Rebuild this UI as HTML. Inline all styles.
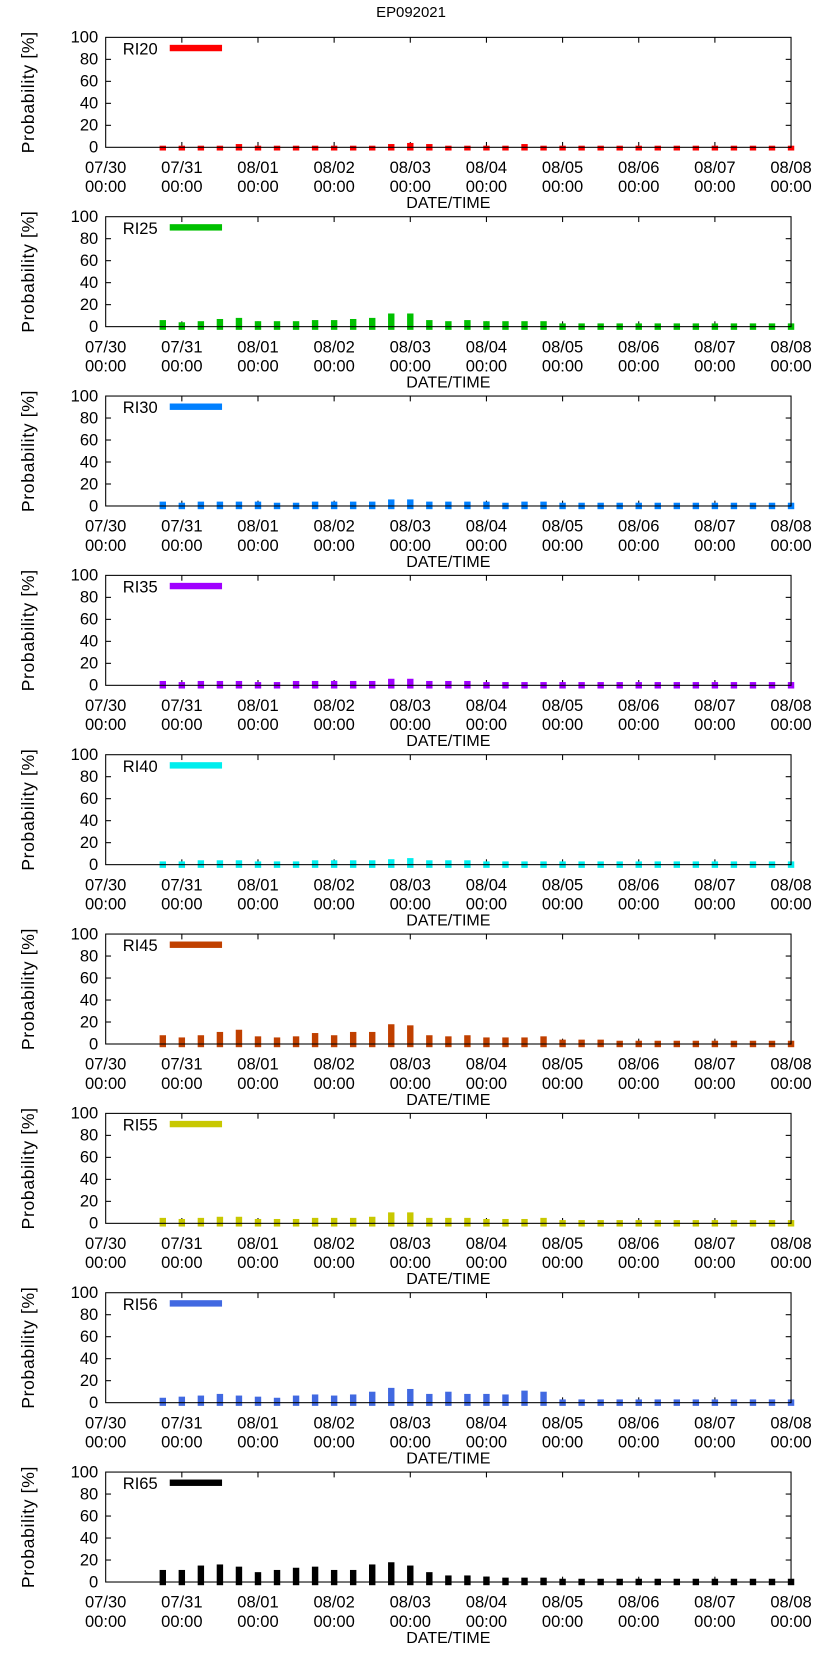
<!DOCTYPE html>
<html><head><meta charset="utf-8"><style>
html,body{margin:0;padding:0;background:#fff;}
svg{display:block;font-family:"Liberation Sans",sans-serif;}
</style></head><body>
<svg id="chart" width="822" height="1653" viewBox="0 0 770 1548.5" preserveAspectRatio="none" xmlns="http://www.w3.org/2000/svg">
<text x="385" y="16" text-anchor="middle" font-size="14">EP092021</text>
</svg>
<script>
const panelNames = ["RI20","RI25","RI30","RI35","RI40","RI45","RI55","RI56","RI65"];
const panelColors = ["#ff0000","#00c000","#0080ff","#a000ff","#00eeee","#c04000","#c8c800","#4169e1","#000000"];
const dayLabels = ["07/30","07/31","08/01","08/02","08/03","08/04","08/05","08/06","08/07","08/08"];
const yTicks = [0,20,40,60,80,100];
const firstBarHour = 18;
const ri20 = [0.5,0.5,0.5,0.5,2,0.5,0.5,0.5,0.5,0.5,0.5,0.5,2,3,2,0.5,0.5,0.5,0.5,2,0.5,0.5,0.5,0.5,0.5,0.5,0.5,0.5,0.5,0.5,0.5,0.5,0.5,0.5];
const ri25 = [5,3,4,6,7,4,4,4,5,5,6,7,11,11,5,4,5,4,4,4,4,2,2,2,2,2,2,2,2,2,2,2,2,2];
const ri30 = [3,2,3,3,3,3,2,2,3,3,3,3,5,5,3,3,3,3,2,3,3,2,2,2,2,2,2,2,2,2,2,2,2,2];
const ri35 = [3,2,3,3,3,2,2,3,3,3,3,3,5,5,3,3,3,2,2,2,2,2,2,2,2,2,2,2,2,2,2,2,2,2];
const ri40 = [2,2,3,3,3,2,2,2,3,3,3,3,4,5,3,3,3,2,2,2,2,2,2,2,2,2,2,2,2,2,2,2,2,2];
const ri45 = [7,5,7,10,12,6,5,6,9,7,10,10,17,16,7,6,7,5,5,5,6,3,3,3,2,2,2,2,2,2,2,2,2,2];
const ri55 = [4,3,4,5,5,3,3,3,4,4,4,5,9,9,4,4,4,3,3,3,4,2,2,2,2,2,2,2,2,2,2,2,2,2];
const ri56 = [3.5,4.5,5.5,7,5.5,4.5,3.5,5.5,6.5,5.5,6.5,9,12.5,11.5,7,9,7,7,6.5,10,9,2,2,2,2,2,2,2,2,2,2,2,2,2];
const ri65 = [10,10,14,15,13,8,10,12,13,10,10,15,17,14,8,5,5,4,3,3,3,2,2,2,2,2,2,2,2,2,2,2,2,2];
const panelSeries = [ri20,ri25,ri30,ri35,ri40,ri45,ri55,ri56,ri65];

const NS="http://www.w3.org/2000/svg";
const svg=document.getElementById('chart');
const L=99,R=741,PH=168,T0=35,B0=138;
const nDays=dayLabels.length-1;
function xDay(d){return L+(R-L)*d/nDays;}
function xHour(h){return xDay(h/24);}
function mk(tag,attrs,parent){const e=document.createElementNS(NS,tag);for(const k in attrs)e.setAttribute(k,attrs[k]);(parent||svg).appendChild(e);return e;}

panelSeries.forEach((vals,p)=>{
  const top=T0+PH*p, bot=B0+PH*p;
  const yv=v=>bot-(bot-top)*v/100;
  const g=mk('g',{});
  
  
  yTicks.forEach(t=>{
    const y=yv(t);
    const tl=mk('text',{x:92,y:y+5,'text-anchor':'end','font-size':15.5},g);
    tl.textContent=t;
    
    
    if(t>0&&t<100){
      mk('line',{x1:L,x2:L+5,y1:y,y2:y,stroke:'#000','stroke-width':1},g);
      mk('line',{x1:R,x2:R-5,y1:y,y2:y,stroke:'#000','stroke-width':1},g);
    }
  });
  dayLabels.forEach((d,i)=>{
    const x=xDay(i);
    if(i>0&&i<nDays){
      mk('line',{x1:x,x2:x,y1:bot,y2:bot-5,stroke:'#000','stroke-width':1},g);
      mk('line',{x1:x,x2:x,y1:top,y2:top+5,stroke:'#000','stroke-width':1},g);
    }
    const t1=mk('text',{x:x,y:bot+24,'text-anchor':'middle','font-size':15.5},g);
    t1.textContent=d;
    
    
    const t2=mk('text',{x:x,y:bot+42,'text-anchor':'middle','font-size':15.5},g);
    t2.textContent='00:00';
    
    
  });
  const xt=mk('text',{x:(L+R)/2,y:bot+57,'text-anchor':'middle','font-size':15},g);
  xt.textContent='DATE/TIME';
  
  
  const yt=mk('text',{x:0,y:0,'text-anchor':'middle','font-size':16.5,'letter-spacing':'0.6',transform:`translate(32,${(top+bot)/2}) rotate(-90)`},g);
  yt.textContent='Probability [%]';
  
  
  vals.forEach((v,i)=>{
    const x=xHour(firstBarHour+6*i);
    const yTop=yv(v)-1;
    const b=mk('rect',{x:x-3,y:yTop,width:6,height:bot+3-yTop,fill:panelColors[p]},g);
    
    
  });
  const fr=mk('rect',{x:L,y:top,width:R-L,height:bot-top,fill:'none',stroke:'#000','stroke-width':1},g);
  
  
  const lt=mk('text',{x:115,y:top+16,'font-size':15.5},g);
  lt.textContent=panelNames[p];
  
  
  const ls=mk('rect',{x:159,y:top+7,width:49,height:6,fill:panelColors[p]},g);
  
  
});
</script>
</body></html>
